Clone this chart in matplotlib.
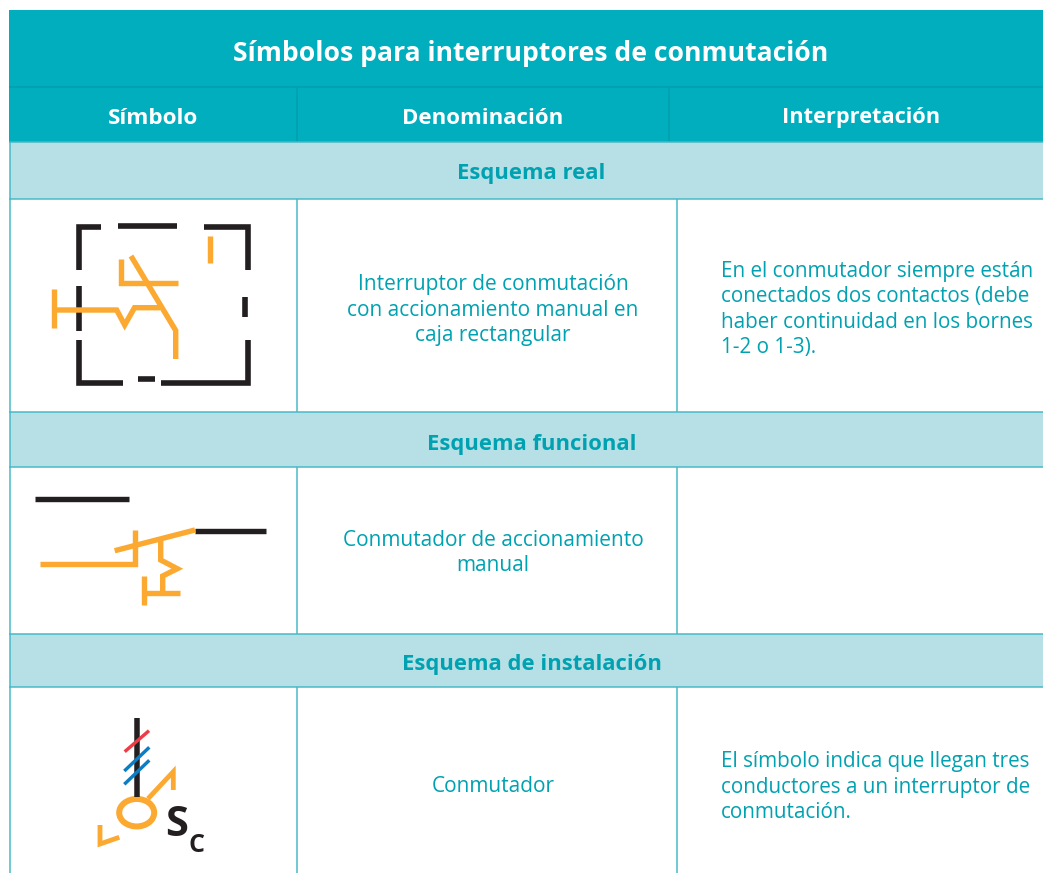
import matplotlib
matplotlib.use("Agg")
import matplotlib.pyplot as plt
from matplotlib.patches import Rectangle, Ellipse

TEAL = "#00AEBE"
TEAL_DARK = "#00A2B1"
LIGHT = "#B7DFE6"
BORDER = "#45B9C7"
ORANGE = "#FBA931"
BLACK = "#231F20"
RED = "#EE3B46"
BLUE = "#0C7CC4"
PX = 0.72

title = "Símbolos para interruptores de conmutación"
headers = ["Símbolo", "Denominación", "Interpretación"]
sections = ["Esquema real", "Esquema funcional", "Esquema de instalación"]
names = ["Interruptor de conmutación\ncon accionamiento manual en\ncaja rectangular",
         "Conmutador de accionamiento\nmanual",
         "Conmutador"]
notes = ["En el conmutador siempre están\nconectados dos contactos (debe\nhaber continuidad en los bornes\n1-2 o 1-3).",
         "",
         "El símbolo indica que llegan tres\nconductores a un interruptor de\nconmutación."]

# Table geometry
section_rows = [(142, 199), (412, 467), (634, 687)]
body_rows = [(199, 412), (467, 634), (687, 873)]
section_text_y = [173.5, 444.5, 664.5]
body_text_y = [310, 553, 787]
note_text_y = [309.5, 787]

# Symbol strokes
box_black = [
    [(79, 270), (79, 227), (101, 227)],
    [(118, 226), (177, 226)],
    [(204, 227), (247.5, 227), (247.5, 270)],
    [(79, 286), (79, 331)],
    [(79, 340), (79, 383), (123, 383)],
    [(138, 378.5), (155, 378.5)],
    [(161, 383), (247.5, 383), (247.5, 340)],
    [(245, 297), (245, 317)],
]
box_orange = [
    [(210, 236), (210, 263)],
    [(120.5, 259), (120.5, 282.5), (178, 282.5)],
    [(131, 256), (175.7, 330.5), (175.7, 359)],
    [(53.5, 289), (53.5, 328)],
    [(53.5, 310), (116.7, 310), (124.7, 325), (134.5, 307.7), (160, 307.7)],
]
func_black = [
    [(35, 498.5), (129, 498.5)],
    [(195, 530.7), (266, 530.7)],
]
func_orange = [
    [(40, 564.3), (135, 564.3), (135, 530)],
    [(114.7, 550.7), (195, 530)],
    [(160.7, 540), (160.7, 560), (177.3, 568.7), (162.7, 576), (162.7, 592)],
    [(144, 576), (144, 605)],
    [(144, 593), (180, 593)],
]
inst_black = [[(136.7, 718), (136.7, 797)]]
inst_red = [[(124.7, 751.7), (149, 730.7)]]
inst_blue = [
    [(124.3, 771), (149.3, 747.3)],
    [(124.3, 784.3), (149.3, 760.3)],
]
inst_orange = [
    [(148, 798.7), (173.3, 771.7), (173.3, 790)],
    [(119.3, 837.3), (100, 844), (100, 825)],
]

plt.rcParams["font.family"] = ["Open Sans", "DejaVu Sans"]
fig = plt.figure(figsize=(10.43, 8.73), dpi=100)
ax = fig.add_axes([0, 0, 1, 1])
ax.set_xlim(0, 1043)
ax.set_ylim(873, 0)
ax.axis("off")


def rect(x0, y0, x1, y1, **kw):
    ax.add_patch(Rectangle((x0, y0), x1 - x0, y1 - y0, **kw))


def line(xs, ys, color, lw):
    ax.plot(xs, ys, color=color, lw=lw * PX, solid_capstyle="butt",
            solid_joinstyle="miter")


def strokes(groups, color, lw):
    for g in groups:
        line([p[0] for p in g], [p[1] for p in g], color, lw)


# Header
rect(9, 10, 1043, 142, fc=TEAL, ec="none")
line([9, 1043], [87, 87], TEAL_DARK, 2)
line([297, 297], [87, 141], TEAL_DARK, 2)
line([669, 669], [87, 141], TEAL_DARK, 2)
ax.text(531, 53.5, title, color="white", fontsize=19.05, fontweight="bold", ha="center", va="center")
for x, h, fs in zip([153, 483, 861], headers, [16.2, 16, 15.7]):
    ax.text(x, 123.5, h, color="white", fontsize=fs, fontweight="bold", ha="center", va="baseline")

# Body
for (y0, y1), s, ty in zip(section_rows, sections, section_text_y):
    rect(10, y0, 1043, y1, fc=LIGHT, ec="none")
    ax.text(531.5, ty, s, color=TEAL_DARK, fontsize=15.8, fontweight="bold", ha="center", va="center")
for y in [142, 199, 412, 467, 634, 687]:
    line([9, 1043], [y, y], BORDER, 1.5)
line([9.7, 9.7], [142, 873], BORDER, 1.5)
for y0, y1 in body_rows:
    line([297, 297], [y0, y1], BORDER, 1.5)
    line([677, 677], [y0, y1], BORDER, 1.5)

for n, ty in zip(names, body_text_y):
    ax.text(493, ty, n, color=TEAL_DARK, fontsize=15, ha="center", va="center", linespacing=1.26)
for n, ty in zip([notes[0], notes[2]], note_text_y):
    ax.text(721, ty, n, color=TEAL_DARK, fontsize=14.9, ha="left", va="center", linespacing=1.26)

# Symbols
strokes(box_black, BLACK, 5.6)
strokes(box_orange, ORANGE, 5.4)
strokes(func_black, BLACK, 5.4)
strokes(func_orange, ORANGE, 5.4)
strokes(inst_black, BLACK, 5.5)
strokes(inst_red, RED, 3.4)
strokes(inst_blue, BLUE, 3.4)
strokes(inst_orange, ORANGE, 4.8)
ax.add_patch(Ellipse((136.7, 812.7), 35, 27.5, fc="none", ec=ORANGE, lw=6 * PX))
ax.text(176.5, 836, "S", color=BLACK, fontsize=30, fontweight="bold", ha="center", va="baseline")
ax.text(196, 852.5, "C", color=BLACK, fontsize=18, fontweight="bold", ha="center", va="baseline")

fig.savefig("out.png", dpi=100)
